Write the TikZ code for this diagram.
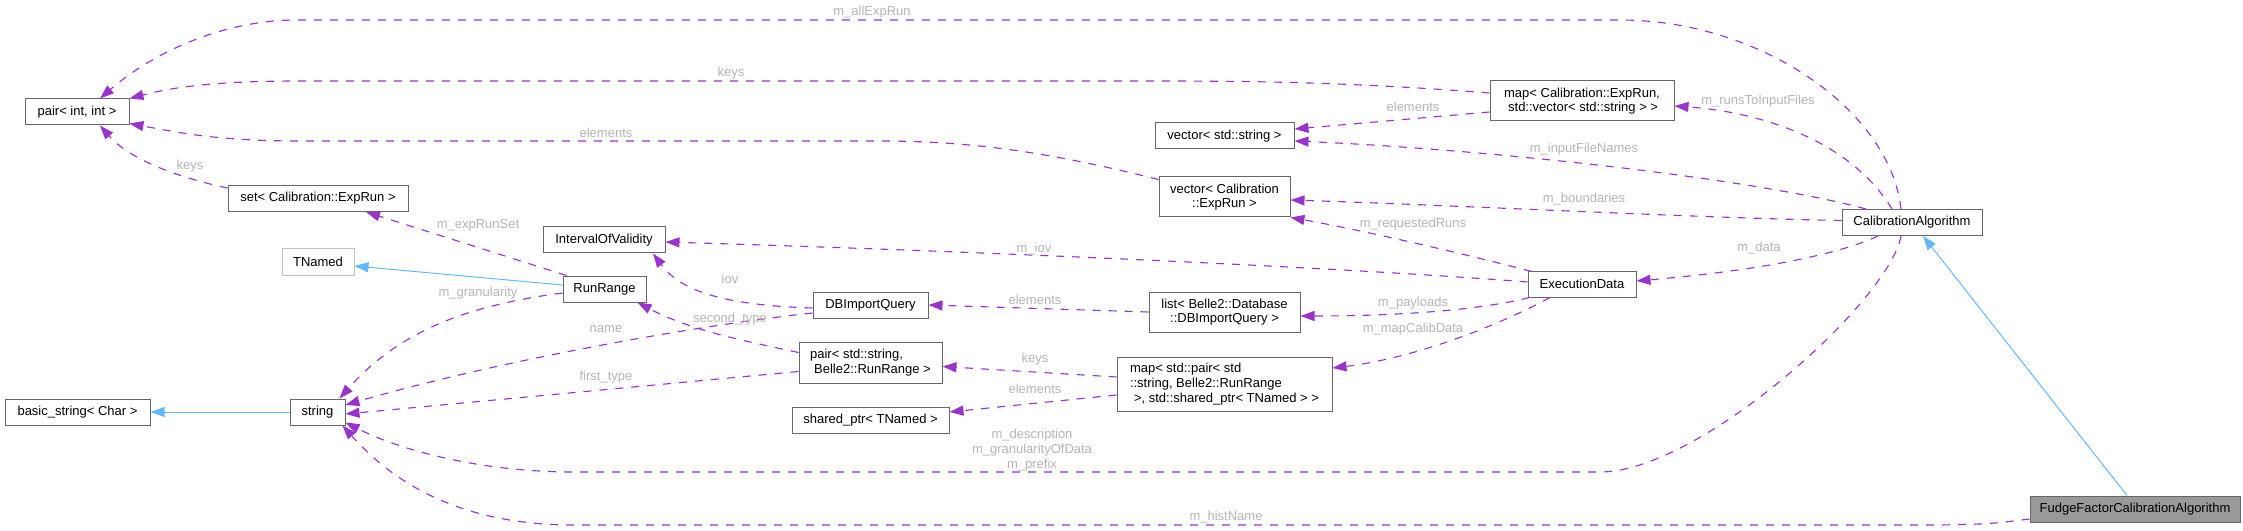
\documentclass[tikz,border=0pt]{standalone}
\usepackage{fontspec}
\setmainfont{Liberation Sans}
\usetikzlibrary{arrows.meta,calc}
\definecolor{edgepurple}{HTML}{9A32CD}
\definecolor{inhblue}{HTML}{63B8FF}
\definecolor{boxgray}{HTML}{666666}
\definecolor{lightbox}{HTML}{BFBFBF}
\definecolor{lblgray}{HTML}{B4B4B4}
\definecolor{fudgefill}{HTML}{999999}
\newcommand\dgfont{\fontsize{9.75}{11}\selectfont}
\tikzset{
  cls/.style={draw=boxgray, line width=0.75pt, fill=white, inner sep=0pt, font=\dgfont, minimum height=19.5pt},
  cls2/.style={cls, minimum height=30pt},
  usedge/.style={draw=edgepurple, line width=0.85pt, dash pattern=on 6pt off 6pt, -{Triangle[length=10.5pt,width=7.5pt]}},
  inhedge/.style={draw=inhblue, line width=0.75pt, -{Triangle[length=10.5pt,width=7.5pt]}},
  lbl/.style={text=lblgray, font=\dgfont, inner sep=0pt}
}
\begin{document}
\begin{tikzpicture}[x=0.75pt,y=-0.75pt]
\useasboundingbox (0,0) rectangle (2243,531);
% nodes
\node[cls, minimum width=78pt] (pii) at (77,112) {pair< int, int >};
\node[cls, minimum width=108.75pt] (bs) at (77.5,412) {basic\_string< Char >};
\node[cls, minimum width=135pt] (setexp) at (318,198.5) {set< Calibration::ExpRun >};
\node[cls, draw=lightbox, minimum width=54pt] (tn) at (318,262) {TNamed};
\node[cls, minimum width=41.25pt] (str) at (317.5,412) {string};
\node[cls, minimum width=91.5pt] (iov) at (604,240) {IntervalOfValidity};
\node[cls, minimum width=62.25pt] (rr) at (604.5,289) {RunRange};
\node[cls, minimum width=86.25pt] (dbq) at (870.5,305) {DBImportQuery};
\node[cls2, minimum width=107.25pt, minimum height=30.75pt, align=left] (psr) at (870.5,362.5) {pair< std::string,\\\hspace*{3pt}Belle2::RunRange >};
\node[cls, minimum width=117.75pt] (sp) at (870.5,420) {shared\_ptr< TNamed >};
\node[cls, minimum width=104.25pt] (vs) at (1224.5,136) {vector< std::string >};
\node[cls2, minimum width=98.25pt, align=center] (ve) at (1224.5,197) {vector< Calibration\\::ExpRun >};
\node[cls2, minimum width=113.25pt, align=center] (lst) at (1224.5,312) {list< Belle2::Database\\::DBImportQuery >};
\node[cls, minimum width=161.25pt, minimum height=40.5pt, align=left] (mp) at (1224.5,384) {map< std::pair< std\\::string, Belle2::RunRange\\\hspace*{3pt}>, std::shared\_ptr< TNamed > >};
\node[cls2, minimum width=138pt, align=left] (mer) at (1582,101) {map< Calibration::ExpRun,\\\hspace*{3pt}std::vector< std::string > >};
\node[cls, minimum width=81pt] (ed) at (1582,284) {ExecutionData};
\node[cls, minimum width=105pt] (ca) at (1912,222.5) {CalibrationAlgorithm};
\node[cls, fill=fudgefill, minimum width=157.5pt] (ff) at (2135,509) {FudgeFactorCalibrationAlgorithm};
% inheritance
\draw[inhedge] ($(ff.north)+(-8,0)$) -- ($(ca.south)+(11,0)$);
\draw[inhedge] ($(rr.west)+(0,-4)$) -- ($(tn.east)+(0,4)$);
\draw[inhedge] (str.west) -- (bs.east);
% usage edges
\draw[usedge] ($(ca.north)+(-11,0)$) .. controls (1890,110) and (1760,20) .. (1620,20) -- (297,20) .. controls (220,20) and (150,55) .. ($(pii.north)+(23,0)$);
\draw[usedge] ($(mer.west)+(0,-8)$) .. controls (1350,82) and (1250,81) .. (1150,81) -- (300,81) .. controls (210,81) and (170,88) .. (pii.north east);
\draw[usedge] ($(ve.north west)+(0,3)$) .. controls (1060,155) and (980,141) .. (880,141) -- (300,141) .. controls (220,141) and (180,133) .. ($(pii.south east)+(0,-2)$);
\draw[usedge] ($(setexp.north west)+(0,3)$) .. controls (180,178) and (130,160) .. ($(pii.south)+(23,0)$);
\draw[usedge] ($(mer.west)+(0,11)$) -- ($(vs.east)+(0,-7)$);
\draw[usedge] ($(ca.north)+(-20,0)$) .. controls (1850,140) and (1760,112) .. ($(mer.east)+(0,5)$);
\draw[usedge] ($(ca.north)+(-46,0)$) .. controls (1760,180) and (1500,150) .. ($(vs.east)+(0,5)$);
\draw[usedge] ($(ca.west)+(0,-2)$) .. controls (1700,218) and (1450,205) .. ($(ve.east)+(0,3)$);
\draw[usedge] ($(ca.south)+(-34,0)$) .. controls (1830,258) and (1740,272) .. ($(ed.east)+(0,-3)$);
\draw[usedge] ($(ca.south)+(-11,0)$) .. controls (1890,300) and (1700,472) .. (1600,472) -- (574,472) .. controls (480,472) and (400,450) .. ($(str.south east)+(0,-3)$);
\draw[usedge] ($(ff.west)+(0,10)$) .. controls (1990,524) .. (1940,525) -- (574,525) .. controls (470,525) and (400,490) .. ($(str.south east)+(-3,0)$);
\draw[usedge] ($(rr.north west)+(4,0)$) -- ($(setexp.south)+(48,0)$);
\draw[usedge] ($(rr.west)+(0,4)$) .. controls (470,305) and (400,330) .. ($(str.north)+(22,0)$);
\draw[usedge] ($(dbq.west)+(0,3)$) .. controls (720,305) and (680,290) .. ($(iov.south)+(49,0)$);
\draw[usedge] ($(ed.west)+(0,-2)$) .. controls (1350,268) and (1000,252) .. ($(iov.east)+(0,2)$);
\draw[usedge] ($(dbq.west)+(0,8)$) .. controls (700,325) and (500,360) .. ($(str.east)+(0,-7)$);
\draw[usedge] ($(psr.west)+(0,-10)$) .. controls (740,340) and (690,330) .. ($(rr.south)+(33,0)$);
\draw[usedge] ($(psr.west)+(0,9)$) -- ($(str.east)+(0,2)$);
\draw[usedge] (lst.west) -- (dbq.east);
\draw[usedge] ($(mp.west)+(0,-7)$) -- ($(psr.east)+(0,4)$);
\draw[usedge] ($(mp.west)+(0,11)$) -- ($(sp.east)+(0,-8)$);
\draw[usedge] ($(ed.north west)+(4,1)$) .. controls (1450,250) and (1350,228) .. (ve.south east);
\draw[usedge] ($(ed.south west)+(2,0)$) .. controls (1480,310) and (1400,316) .. ($(lst.east)+(0,4)$);
\draw[usedge] ($(ed.south)+(-32,0)$) .. controls (1480,335) and (1400,360) .. ($(mp.east)+(0,-16)$);
% labels
\node[lbl] (l1) at (872,12) {m\_allExpRun};
\node[lbl] (l2) at (731,73) {keys};
\node[lbl] (l3) at (606,133) {elements};
\node[lbl] (l4) at (190,166) {keys};
\node[lbl] (l5) at (1413,107) {elements};
\node[lbl] (l6) at (1758,101) {m\_runsToInputFiles};
\node[lbl] (l7) at (1584,149) {m\_inputFileNames};
\node[lbl] (l8) at (1584,199) {m\_boundaries};
\node[lbl] (l9) at (1759,248) {m\_data};
\node[lbl, align=center] (l10) at (1032,450) {m\_description\\m\_granularityOfData\\m\_prefix};
\node[lbl] (l11) at (1226,517) {m\_histName};
\node[lbl] (l12) at (478,225) {m\_expRunSet};
\node[lbl] (l13) at (478,293) {m\_granularity};
\node[lbl] (l14) at (730,279) {iov};
\node[lbl] (l15) at (1034,249) {m\_iov};
\node[lbl] (l16) at (606,329) {name};
\node[lbl] (l17) at (730,319) {second\_type};
\node[lbl] (l18) at (606,377) {first\_type};
\node[lbl] (l19) at (1035,300) {elements};
\node[lbl] (l20) at (1035,359) {keys};
\node[lbl] (l21) at (1035,389) {elements};
\node[lbl] (l22) at (1413,224) {m\_requestedRuns};
\node[lbl] (l23) at (1413,303) {m\_payloads};
\node[lbl] (l24) at (1413,329) {m\_mapCalibData};
\end{tikzpicture}
\end{document}
